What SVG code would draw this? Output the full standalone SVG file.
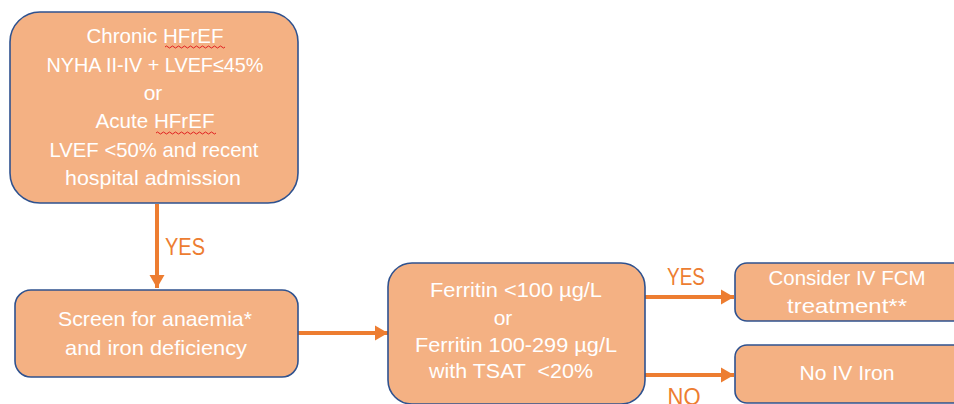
<svg xmlns="http://www.w3.org/2000/svg" width="954" height="404" viewBox="0 0 954 404">
<defs>
<style>
.box{fill:#F4B183;stroke:#2F528F;stroke-width:1.6}
.t{font-family:"Liberation Sans",Arial,sans-serif;font-size:21px;fill:#FFFFFF;text-anchor:middle}
.lbl{font-family:"Liberation Sans",Arial,sans-serif;font-size:23px;fill:#ED7D31;text-anchor:middle}
.con{stroke:#ED7D31;stroke-width:4;fill:none}
.sq{stroke:#E02020;stroke-width:1;fill:none}
</style>
<marker id="ah" markerWidth="4" markerHeight="4" refX="3.3" refY="2" orient="auto" markerUnits="strokeWidth">
<path d="M0,0.1 L3.3,2 L0,3.9 Z" fill="#ED7D31"/>
</marker>
</defs>
<rect width="954" height="404" fill="#FFFFFF"/>
<g id="connectors">
<line class="con" x1="157" y1="204" x2="157" y2="288" marker-end="url(#ah)"/>
<line class="con" x1="298" y1="333" x2="388" y2="333" marker-end="url(#ah)"/>
<line class="con" x1="645" y1="297" x2="734" y2="297" marker-end="url(#ah)"/>
<line class="con" x1="645" y1="375" x2="734" y2="375" marker-end="url(#ah)"/>
<text class="lbl" x="185" y="255" textLength="40" lengthAdjust="spacingAndGlyphs">YES</text>
<text class="lbl" x="686" y="285" textLength="38" lengthAdjust="spacingAndGlyphs">YES</text>
<text class="lbl" x="684" y="405" textLength="33" lengthAdjust="spacingAndGlyphs">NO</text>
</g>
<g id="node-hf">
<rect class="box" x="10" y="12" width="288" height="191" rx="30" ry="30"/>
<text class="t" x="155" y="43" textLength="137" lengthAdjust="spacingAndGlyphs">Chronic HFrEF</text>
<path class="sq" d="M165,47 q1.5,-2 3,0 t3,0 t3,0 t3,0 t3,0 t3,0 t3,0 t3,0 t3,0 t3,0 t3,0 t3,0 t3,0 t3,0 t3,0 t3,0 t3,0 t3,0 t3,0 t3,0"/>
<text class="t" x="155" y="72" textLength="217" lengthAdjust="spacingAndGlyphs">NYHA II-IV + LVEF≤45%</text>
<text class="t" x="153" y="100">or</text>
<text class="t" x="155" y="128" textLength="119" lengthAdjust="spacingAndGlyphs">Acute HFrEF</text>
<path class="sq" d="M156,133 q1.5,-2 3,0 t3,0 t3,0 t3,0 t3,0 t3,0 t3,0 t3,0 t3,0 t3,0 t3,0 t3,0 t3,0 t3,0 t3,0 t3,0 t3,0 t3,0 t3,0 t3,0"/>
<text class="t" x="154" y="157" textLength="209" lengthAdjust="spacingAndGlyphs">LVEF &lt;50% and recent</text>
<text class="t" x="153" y="185" textLength="176" lengthAdjust="spacingAndGlyphs">hospital admission</text>
</g>
<g id="node-screen">
<rect class="box" x="15" y="290" width="283" height="87" rx="16" ry="16"/>
<text class="t" x="155" y="326" textLength="194" lengthAdjust="spacingAndGlyphs">Screen for anaemia*</text>
<text class="t" x="156" y="355" textLength="182" lengthAdjust="spacingAndGlyphs">and iron deficiency</text>
</g>
<g id="node-ferritin">
<rect class="box" x="388" y="263" width="257" height="141" rx="24" ry="24"/>
<text class="t" x="516" y="297" textLength="172" lengthAdjust="spacingAndGlyphs">Ferritin &lt;100 µg/L</text>
<text class="t" x="503" y="325">or</text>
<text class="t" x="516" y="352" textLength="202" lengthAdjust="spacingAndGlyphs">Ferritin 100-299 µg/L</text>
<text class="t" x="511" y="378" textLength="164" lengthAdjust="spacingAndGlyphs" xml:space="preserve">with TSAT  &lt;20%</text>
</g>
<g id="node-fcm">
<rect class="box" x="735" y="263" width="240" height="58" rx="12" ry="12"/>
<text class="t" x="847" y="285" textLength="157" lengthAdjust="spacingAndGlyphs">Consider IV FCM</text>
<text class="t" x="847" y="313" textLength="120" lengthAdjust="spacingAndGlyphs">treatment**</text>
</g>
<g id="node-noiron">
<rect class="box" x="735" y="345" width="240" height="58" rx="12" ry="12"/>
<text class="t" x="847" y="380" textLength="95" lengthAdjust="spacingAndGlyphs">No IV Iron</text>
</g>
</svg>
